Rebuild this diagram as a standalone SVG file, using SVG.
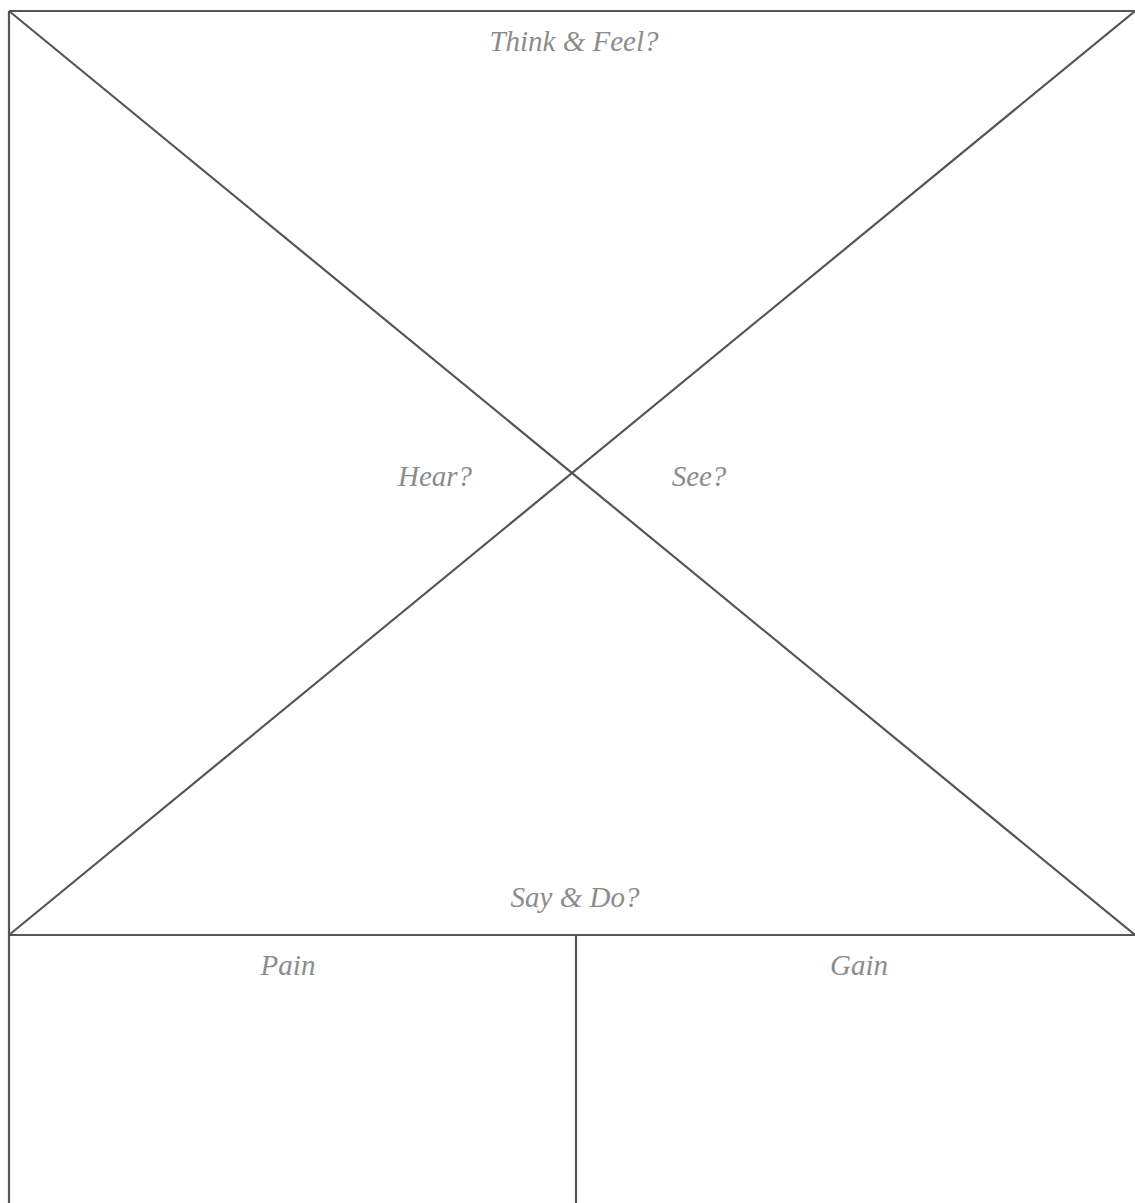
<svg xmlns="http://www.w3.org/2000/svg" width="1135" height="1203" viewBox="0 0 1135 1203">
<style>
.ln{stroke:#565656;stroke-width:2.2;fill:none}
.lb{font-family:"Liberation Serif","DejaVu Serif",serif;font-style:italic;font-size:29px;fill:#8c8c8c;text-anchor:middle}
</style>
<rect width="1135" height="1203" fill="#ffffff"/>
<g id="connectors">
<line class="ln" x1="9" y1="11" x2="1135" y2="11"/>
<line class="ln" x1="9" y1="11" x2="9" y2="1203"/>
<line class="ln" x1="9" y1="935" x2="1135" y2="935"/>
<line class="ln" x1="576" y1="935" x2="576" y2="1203"/>
<line class="ln" x1="9" y1="11" x2="1135" y2="935"/>
<line class="ln" x1="1135" y1="11" x2="9" y2="935"/>
</g>
<g id="think-feel"><text class="lb" x="574" y="51">Think &amp; Feel?</text></g>
<g id="hear"><text class="lb" x="435" y="486">Hear?</text></g>
<g id="see"><text class="lb" x="699" y="486">See?</text></g>
<g id="say-do"><text class="lb" x="575" y="907">Say &amp; Do?</text></g>
<g id="pain"><text class="lb" x="288" y="975">Pain</text></g>
<g id="gain"><text class="lb" x="859" y="975">Gain</text></g>
</svg>
